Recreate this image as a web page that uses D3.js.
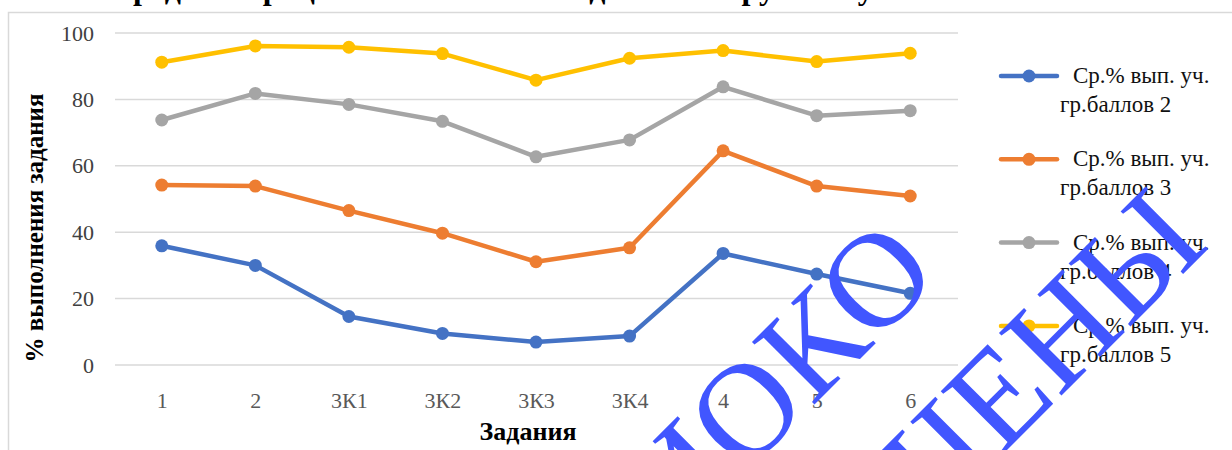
<!DOCTYPE html>
<html>
<head>
<meta charset="utf-8">
<script src="https://cdnjs.cloudflare.com/ajax/libs/d3/7.8.5/d3.min.js"></script>
<style>
  body { margin: 0; background: #fff; }
  svg { display: block; font-family: "Liberation Serif", "Times New Roman", serif; }
</style>
</head>
<body>
<div id="chart"></div>
<script>
var width = 1232, height = 450;

// tasks and series values (% выполнения)
var tasks = ["1", "2", "3К1", "3К2", "3К3", "3К4", "4", "5", "6"];
var seriesNames = [
  "Ср.% вып. уч. гр.баллов 2",
  "Ср.% вып. уч. гр.баллов 3",
  "Ср.% вып. уч. гр.баллов 4",
  "Ср.% вып. уч. гр.баллов 5"
];
var legendLine1 = ["Ср.% вып. уч.", "Ср.% вып. уч.", "Ср.% вып. уч.", "Ср.% вып. уч."];
var legendLine2 = ["гр.баллов 2", "гр.баллов 3", "гр.баллов 4", "гр.баллов 5"];
var group2 = [35.9, 30.0, 14.6, 9.5, 6.9, 8.7, 33.6, 27.4, 21.6];
var group3 = [54.2, 53.9, 46.5, 39.7, 31.1, 35.3, 64.5, 53.9, 50.9];
var group4 = [73.8, 81.8, 78.5, 73.4, 62.7, 67.8, 83.8, 75.1, 76.6];
var group5 = [91.2, 96.1, 95.7, 93.8, 85.8, 92.4, 94.7, 91.4, 93.9];
var yTicks = [0, 20, 40, 60, 80, 100];
var colors = ["#4472C4", "#ED7D31", "#A5A5A5", "#FFC000"];

var series = [group2, group3, group4, group5].map(function (vals, i) {
  return { name: seriesNames[i], l1: legendLine1[i], l2: legendLine2[i], color: colors[i], values: vals };
});

var svg = d3.select("#chart").append("svg")
  .attr("width", width)
  .attr("height", height);

// chart frame
svg.append("rect")
  .attr("x", 8.5).attr("y", 12.5)
  .attr("width", 1300).attr("height", 500)
  .attr("fill", "none")
  .attr("stroke", "#d9d9d9")
  .attr("stroke-width", 1.5);

// title (cut off at top)
svg.append("text")
  .attr("x", 110).attr("y", -1)
  .style("font-size", "32px")
  .style("font-weight", "bold")
  .attr("fill", "#000")
  .text("Средний процент выполнения заданий по группам участников");

var x = d3.scalePoint()
  .domain(tasks)
  .range([115, 957])
  .padding(0.5);

var y = d3.scaleLinear()
  .domain([0, 100])
  .range([365, 33]);

// grid
svg.append("g")
  .selectAll("line")
  .data(yTicks)
  .enter().append("line")
  .attr("x1", 115).attr("x2", 958)
  .attr("y1", function (d) { return y(d); })
  .attr("y2", function (d) { return y(d); })
  .attr("stroke", "#d9d9d9")
  .attr("stroke-width", 1.5);

// y axis labels
var yAxis = d3.axisLeft(y).tickValues(yTicks).tickSize(0).tickPadding(0);
var gy = svg.append("g")
  .attr("transform", "translate(94,0)")
  .call(yAxis);
gy.select(".domain").remove();
gy.attr("font-family", null).attr("font-size", null);
gy.selectAll("text")
  .style("font-size", "22px")
  .attr("fill", "#404040");

// x axis labels
var xAxis = d3.axisBottom(x).tickSize(0).tickPadding(0);
var gx = svg.append("g")
  .attr("transform", "translate(0,392)")
  .call(xAxis);
gx.select(".domain").remove();
gx.attr("font-family", null).attr("font-size", null);
gx.selectAll("text")
  .style("font-size", "22px")
  .attr("fill", "#595959");

// axis titles
svg.append("text")
  .attr("transform", "translate(43,228) rotate(-90)")
  .attr("text-anchor", "middle")
  .style("font-size", "25px")
  .style("font-weight", "bold")
  .text("% выполнения задания");

svg.append("text")
  .attr("x", 528).attr("y", 440)
  .attr("text-anchor", "middle")
  .style("font-size", "26px")
  .style("font-weight", "bold")
  .text("Задания");

// lines
var line = d3.line()
  .x(function (d, i) { return x(tasks[i]); })
  .y(function (d) { return y(d); });

var sg = svg.append("g").selectAll("g")
  .data(series)
  .enter().append("g");

sg.append("path")
  .attr("d", function (d) { return line(d.values); })
  .attr("fill", "none")
  .attr("stroke", function (d) { return d.color; })
  .attr("stroke-width", 4.5)
  .attr("stroke-linejoin", "round");

sg.selectAll("circle")
  .data(function (d) { return d.values.map(function (v, i) { return { v: v, i: i, c: d.color }; }); })
  .enter().append("circle")
  .attr("cx", function (d) { return x(tasks[d.i]); })
  .attr("cy", function (d) { return y(d.v); })
  .attr("r", 6.5)
  .attr("fill", function (d) { return d.c; });

// legend
var legend = svg.append("g").selectAll("g")
  .data(series)
  .enter().append("g")
  .attr("transform", function (d, i) { return "translate(0," + (76 + i * 83.3) + ")"; });

legend.append("line")
  .attr("x1", 1001).attr("x2", 1057)
  .attr("stroke", function (d) { return d.color; })
  .attr("stroke-width", 4.5)
  .attr("stroke-linecap", "round");
legend.append("circle")
  .attr("cx", 1029).attr("r", 6.5)
  .attr("fill", function (d) { return d.color; });
legend.append("text")
  .attr("x", 1073).attr("y", 7)
  .style("font-size", "23px")
  .attr("fill", "#111")
  .text(function (d) { return d.l1; });
legend.append("text")
  .attr("x", 1060).attr("y", 36)
  .style("font-size", "23px")
  .attr("fill", "#111")
  .text(function (d) { return d.l2; });

// watermark
var wm = svg.append("g")
  .style("font-size", "135px")
  .attr("fill", "#4156ff")
  .attr("text-anchor", "end");
wm.append("text")
  .attr("transform", "translate(942,277) rotate(-45)")
  .text("ФИОКО");
wm.append("text")
  .attr("transform", "translate(1211,246) rotate(-45)")
  .text("ЗАЩИЩЕНЫ");
</script>
</body>
</html>
